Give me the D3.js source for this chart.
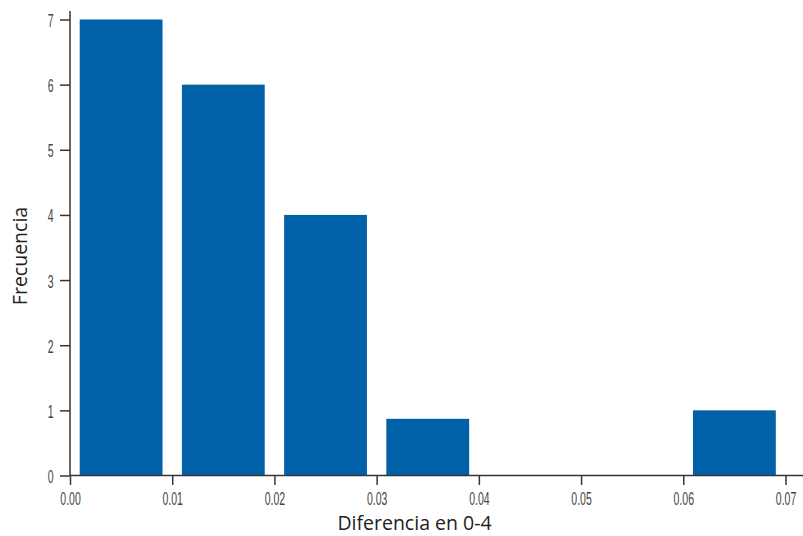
<!DOCTYPE html>
<html><head><meta charset="utf-8">
<script src="https://cdn.jsdelivr.net/npm/d3@7"></script>
<style>body{margin:0;background:#fff}svg{display:block}</style>
</head><body>
<svg id="c" width="803" height="536"></svg>
<script>
const binStarts = [0.00, 0.01, 0.02, 0.03, 0.06];
const binEnds   = [0.01, 0.02, 0.03, 0.04, 0.07];
const counts    = [7, 6, 4, 0.87, 1];
const xTicks = [0, 0.01, 0.02, 0.03, 0.04, 0.05, 0.06, 0.07];
const yTicks = [0, 1, 2, 3, 4, 5, 6, 7];

const svg = d3.select("#c");
const x = d3.scaleLinear().domain([0, 0.07]).range([70, 785.5]);
const y = d3.scaleLinear().domain([0, 7]).range([475.5, 19.5]);
const axisColor = "#3a3535";
const tickFont = "'Liberation Sans',Arial,sans-serif";
const titleFont = "'Open Sans','Noto Sans',sans-serif";
const sx = 0.6;

const pad = 9.7;
svg.append("g").selectAll("rect").data(counts).join("rect")
  .attr("x", (d,i) => x(binStarts[i]) + pad)
  .attr("width", (d,i) => x(binEnds[i]) - x(binStarts[i]) - 2*pad)
  .attr("y", d => y(d))
  .attr("height", d => y(0) - y(d))
  .attr("fill", "#0060a8");

// x axis
const gx = svg.append("g").attr("transform", "translate(0,475.5)")
  .call(d3.axisBottom(x).tickValues(xTicks).tickFormat(d3.format(".2f")).tickSize(9.5).tickSizeOuter(0));
gx.select(".domain").attr("d", "M70,0H803");
// y axis
const gy = svg.append("g").attr("transform", "translate(70,0)")
  .call(d3.axisLeft(y).tickValues(yTicks).tickFormat(d3.format("d")).tickSize(10).tickSizeOuter(0));
gy.select(".domain").attr("d", "M0,11V475.5");

[gx, gy].forEach(g => {
  g.selectAll(".domain, line").attr("stroke", axisColor).attr("stroke-width", 1.5);
  g.selectAll("text").attr("fill", "#444").style("font-family", tickFont).style("font-size", "17.5px")
    .attr("transform", `scale(${sx},1)`);
});
gx.selectAll("text").attr("y", 29.5).attr("dy", 0);
gy.selectAll("text").attr("x", -16.5 / sx).attr("dy", 0).attr("y", 7);

svg.append("text").attr("x", 414.5).attr("y", 530).attr("text-anchor", "middle")
  .style("font-family", titleFont).style("font-size", "19.5px").attr("fill", "#222")
  .text("Diferencia en 0-4");
svg.append("text").attr("transform", "translate(27,256) rotate(-90)").attr("text-anchor", "middle")
  .style("font-family", titleFont).style("font-size", "19.5px").attr("fill", "#222")
  .text("Frecuencia");
</script>
</body></html>
